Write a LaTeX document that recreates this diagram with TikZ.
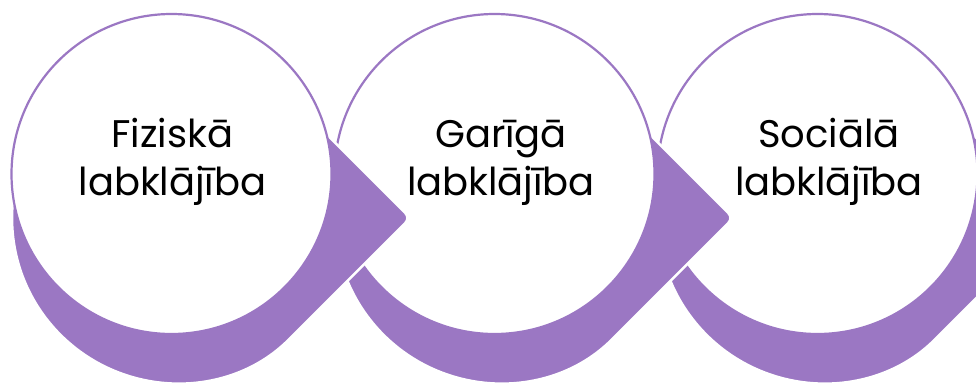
\documentclass[tikz,border=0pt]{standalone}
\usepackage{fontspec}
\setmainfont{Poppins}
\definecolor{pur}{RGB}{155,119,195}
\tikzset{
  drop/.style={fill=pur, draw=white, line width=2.5pt},
  disc/.style={circle, fill=white, draw=pur, line width=2.2pt, minimum size=320pt, inner sep=0pt},
  lbl/.style={anchor=base, font=\fontsize{38.5}{46}\selectfont, text=black, inner sep=0pt},
}
\begin{document}
\begin{tikzpicture}[x=1pt,y=-1pt]
\useasboundingbox (0,0) rectangle (976,385);
% unit 3
\begin{scope}[shift={(646,0)}]
  \path[drop] (293.7,334.7) arc[start angle=45,end angle=315,radius=165] [rounded corners=7pt] -- (410.3,218) -- cycle;
\end{scope}
\node[disc] (c3) at (817.5,174) {};
% unit 2
\begin{scope}[shift={(323,0)}]
  \path[drop] (293.7,334.7) arc[start angle=45,end angle=315,radius=165] [rounded corners=7pt] -- (410.3,218) -- cycle;
\end{scope}
\node[disc] (c2) at (494.5,174) {};
% unit 1
\path[drop] (293.7,334.7) arc[start angle=45,end angle=315,radius=165] [rounded corners=7pt] -- (410.3,218) -- cycle;
\node[disc] (c1) at (171.5,174) {};
% labels
\node[lbl] (a1) at (172.5,147) {Fiziskā};
\node[lbl] (b1) at (172.5,195) {labklājība};
\node[lbl] (a2) at (501,147) {Garīgā};
\node[lbl] (b2) at (501,195) {labklājība};
\node[lbl] (a3) at (829,147) {Sociālā};
\node[lbl] (b3) at (829,195) {labklājība};
\end{tikzpicture}
\end{document}
